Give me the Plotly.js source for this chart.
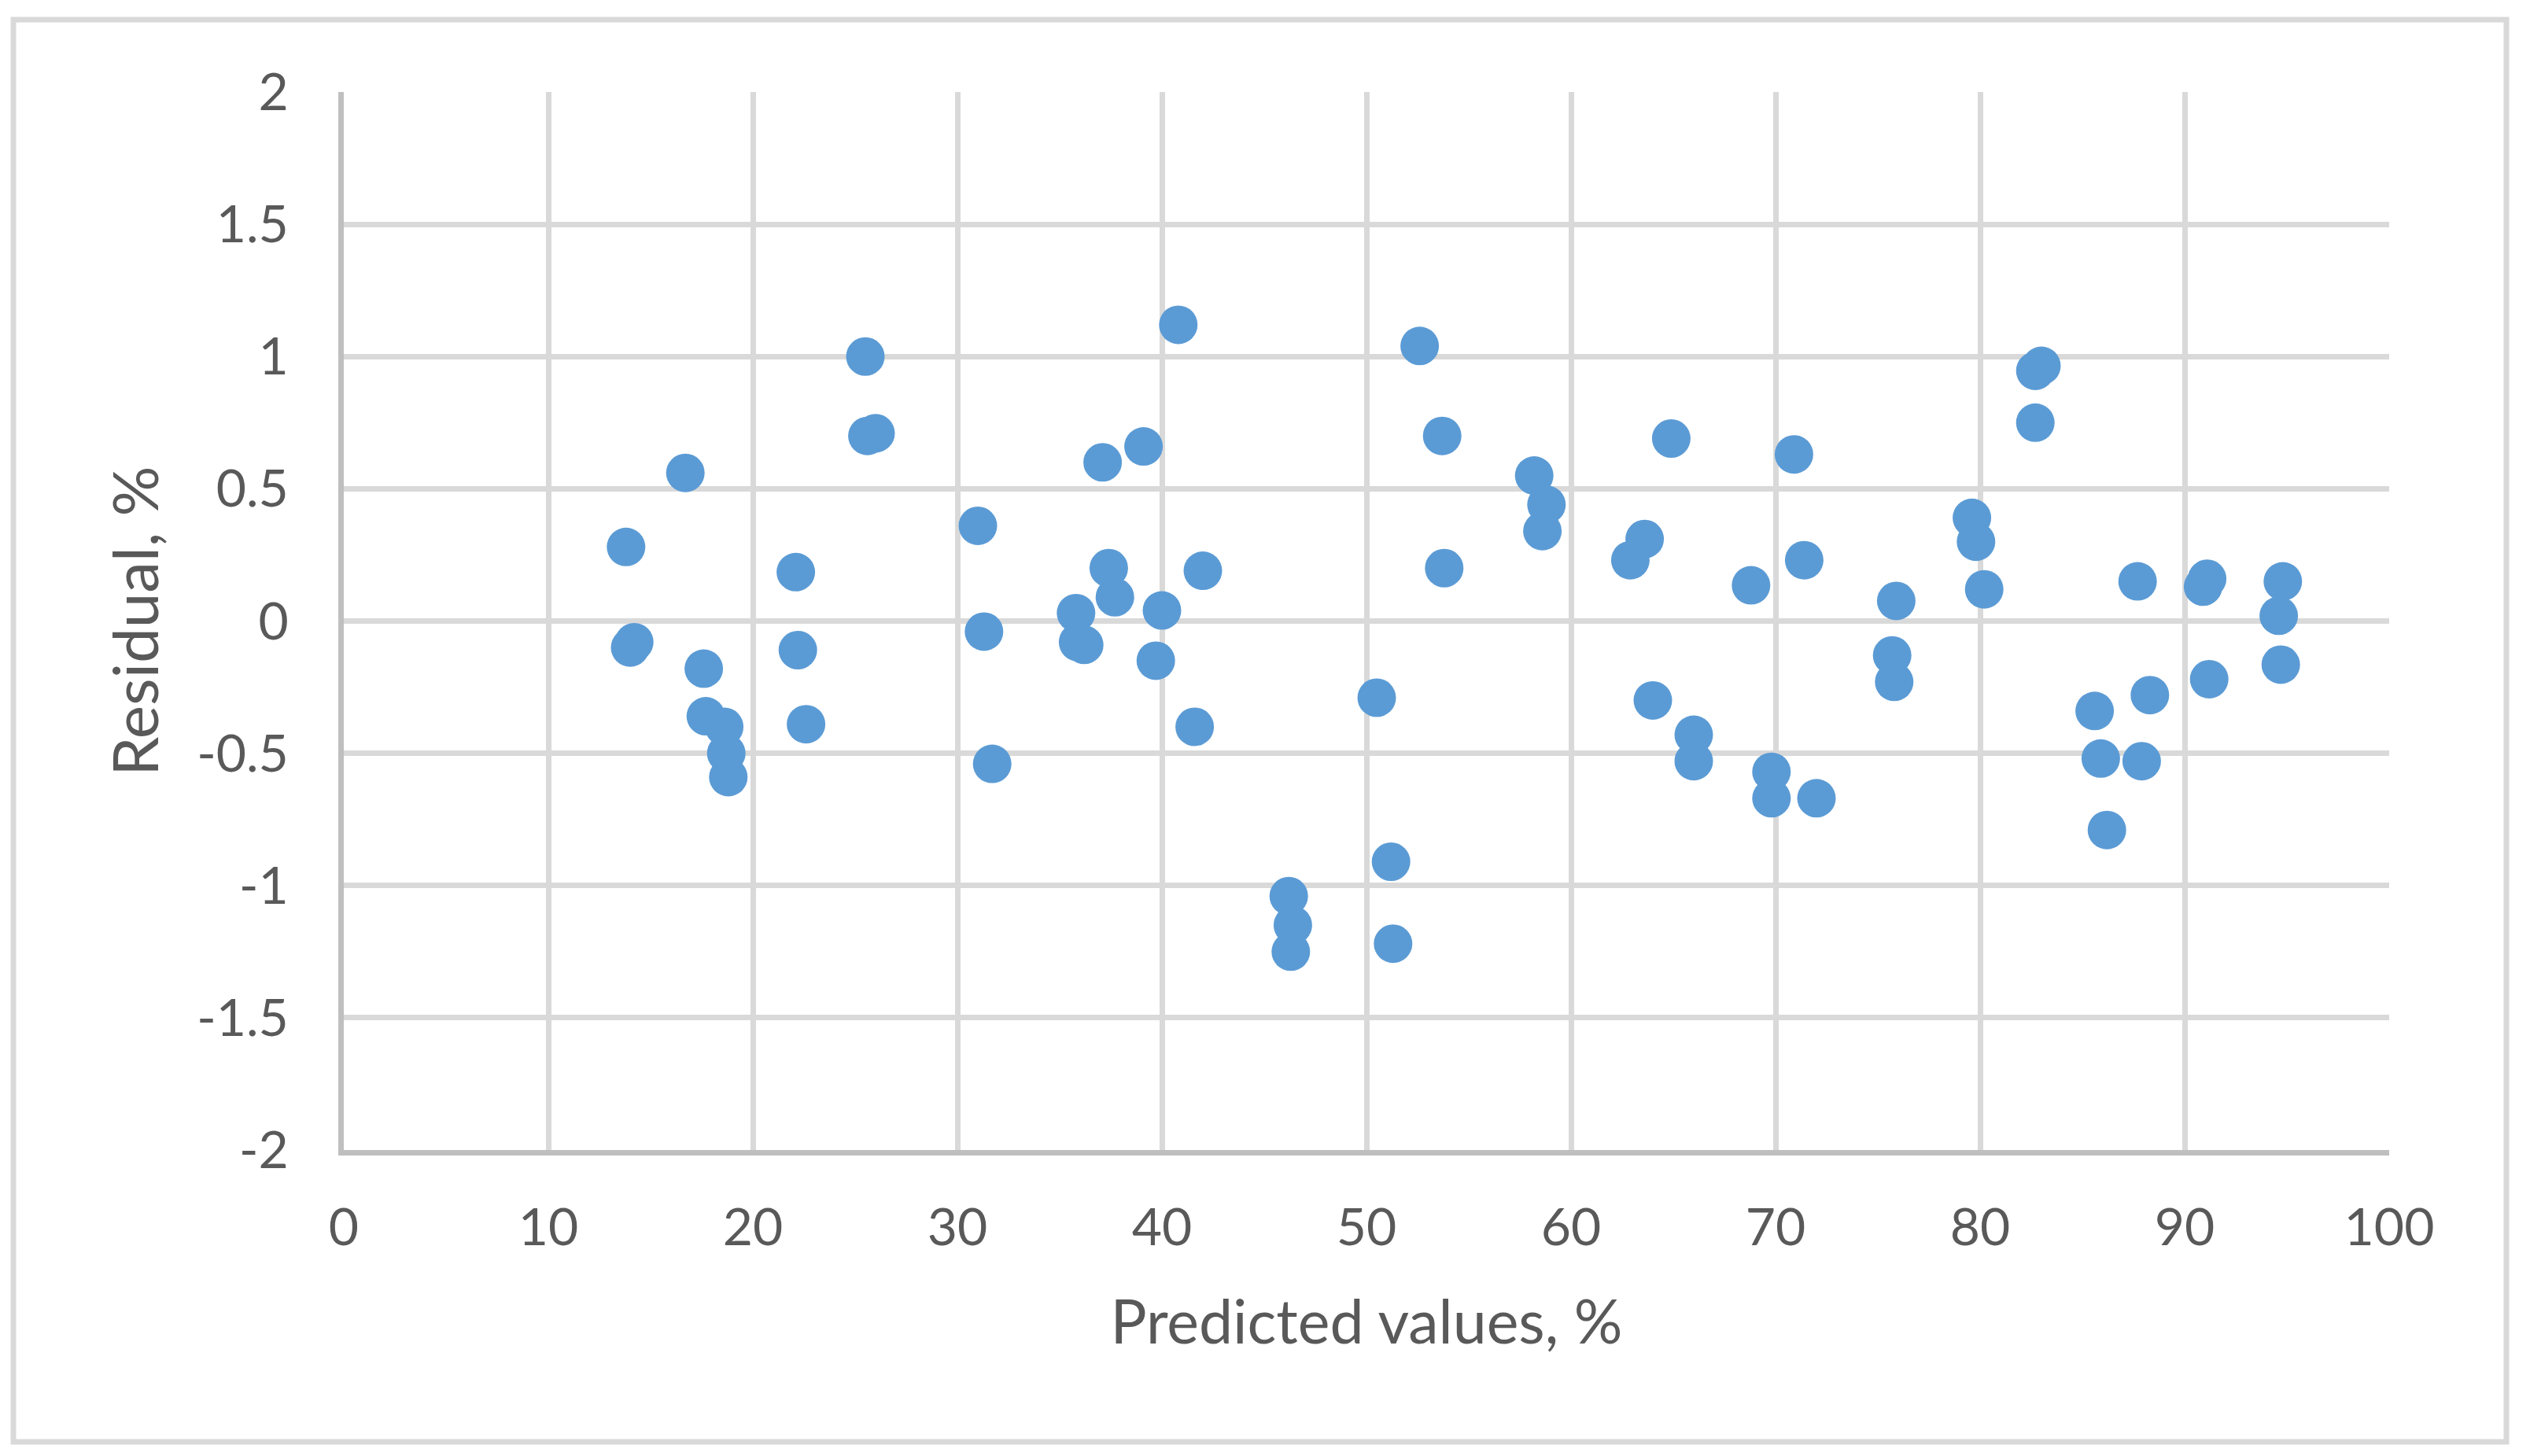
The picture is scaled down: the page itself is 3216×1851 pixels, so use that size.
<!DOCTYPE html>
<html>
<head>
<meta charset="utf-8">
<script src="https://cdn.plot.ly/plotly-3.0.1.min.js"></script>
<style>
  html, body { margin: 0; padding: 0; background: #ffffff; }
  #chart { width: 3216px; height: 1851px; }
</style>
</head>
<body>
<div id="chart"></div>
<script>
// Predicted values (%)
const predicted = [
  13.8, 14.0, 14.2, 16.7, 17.6, 17.7, 18.6, 18.7, 18.8,
  22.1, 22.2, 22.6, 25.5, 25.6, 26.0,
  31.0, 31.3, 31.7,
  35.8, 35.9, 36.2, 37.1, 37.4, 37.7, 39.1, 39.7, 40.0, 40.8, 41.6, 42.0,
  46.2, 46.4, 46.3, 50.5, 51.2, 51.3, 52.6, 53.7, 53.8,
  58.2, 58.8, 58.6, 62.9, 63.6, 64.0, 64.9, 66.0, 66.0,
  68.8, 69.8, 69.8, 70.9, 71.4, 72.0,
  75.9, 75.7, 75.8, 79.6, 79.8, 80.2, 82.7, 83.0, 82.7,
  85.6, 85.9, 86.2, 87.7, 87.9, 88.3,
  90.9, 91.1, 91.2, 94.8, 94.6, 94.7
];
// Residuals (%)
const residual = [
  0.28, -0.10, -0.08, 0.56, -0.18, -0.36, -0.40, -0.50, -0.59,
  0.185, -0.11, -0.39, 1.00, 0.70, 0.71,
  0.36, -0.04, -0.54,
  0.03, -0.08, -0.09, 0.60, 0.20, 0.09, 0.66, -0.15, 0.04, 1.12, -0.40, 0.19,
  -1.04, -1.15, -1.25, -0.29, -0.91, -1.22, 1.04, 0.70, 0.20,
  0.55, 0.44, 0.34, 0.23, 0.31, -0.30, 0.69, -0.43, -0.53,
  0.135, -0.57, -0.67, 0.63, 0.23, -0.67,
  0.076, -0.13, -0.23, 0.39, 0.30, 0.12, 0.946, 0.965, 0.75,
  -0.34, -0.52, -0.79, 0.15, -0.53, -0.28,
  0.13, 0.16, -0.22, 0.15, 0.02, -0.165
];

const xTickVals = [0, 10, 20, 30, 40, 50, 60, 70, 80, 90, 100];
const xTickText = ["0", "10", "20", "30", "40", "50", "60", "70", "80", "90", "100"];
const yTickVals = [-2, -1.5, -1, -0.5, 0, 0.5, 1, 1.5, 2];
const yTickText = ["-2", "-1.5", "-1", "-0.5", "0", "0.5", "1", "1.5", "2"];

const xTitle = "Predicted values, %";
const yTitle = "Residual, %";

const fontFamily = "Lato, 'Open Sans', sans-serif";
const textColor = "#595959";

const trace = {
  type: "scatter",
  mode: "markers",
  x: predicted,
  y: residual,
  marker: { color: "#5B9BD5", size: 49, line: { width: 0 } },
  hoverinfo: "x+y",
  showlegend: false
};

const layout = {
  width: 3216,
  height: 1851,
  margin: { l: 437, r: 179, t: 117, b: 389, pad: 0 },
  paper_bgcolor: "#ffffff",
  plot_bgcolor: "#ffffff",
  font: { family: fontFamily, color: textColor, size: 66 },
  showlegend: false,
  xaxis: {
    range: [0, 100],
    tickvals: xTickVals,
    ticktext: xTickText,
    tickfont: { family: fontFamily, size: 66, color: textColor },
    ticks: "",
    ticklabelstandoff: 35,
    showgrid: true,
    gridcolor: "#d9d9d9",
    gridwidth: 7,
    zeroline: false,
    showline: true,
    linecolor: "#bfbfbf",
    linewidth: 7,
    mirror: false,
    fixedrange: true,
    automargin: false,
    title: { text: xTitle, font: { family: fontFamily, size: 77, color: textColor }, standoff: 60 }
  },
  yaxis: {
    range: [-2, 2],
    tickvals: yTickVals,
    ticktext: yTickText,
    tickfont: { family: fontFamily, size: 66, color: textColor },
    ticks: "",
    ticklabelstandoff: 50,
    showgrid: true,
    gridcolor: "#d9d9d9",
    gridwidth: 7,
    zeroline: false,
    showline: true,
    linecolor: "#bfbfbf",
    linewidth: 7,
    mirror: false,
    fixedrange: true,
    automargin: false,
    title: { text: yTitle, font: { family: fontFamily, size: 80, color: textColor }, standoff: 25 }
  },
  shapes: [
    {
      type: "rect", xref: "paper", yref: "paper",
      x0: -0.16154, x1: 1.05731, y0: -0.27584, y1: 1.06840,
      line: { color: "#d9d9d9", width: 7 },
      fillcolor: "rgba(0,0,0,0)",
      layer: "below"
    }
  ]
};

Plotly.newPlot("chart", [trace], layout, { displayModeBar: false, staticPlot: true });
</script>
</body>
</html>
